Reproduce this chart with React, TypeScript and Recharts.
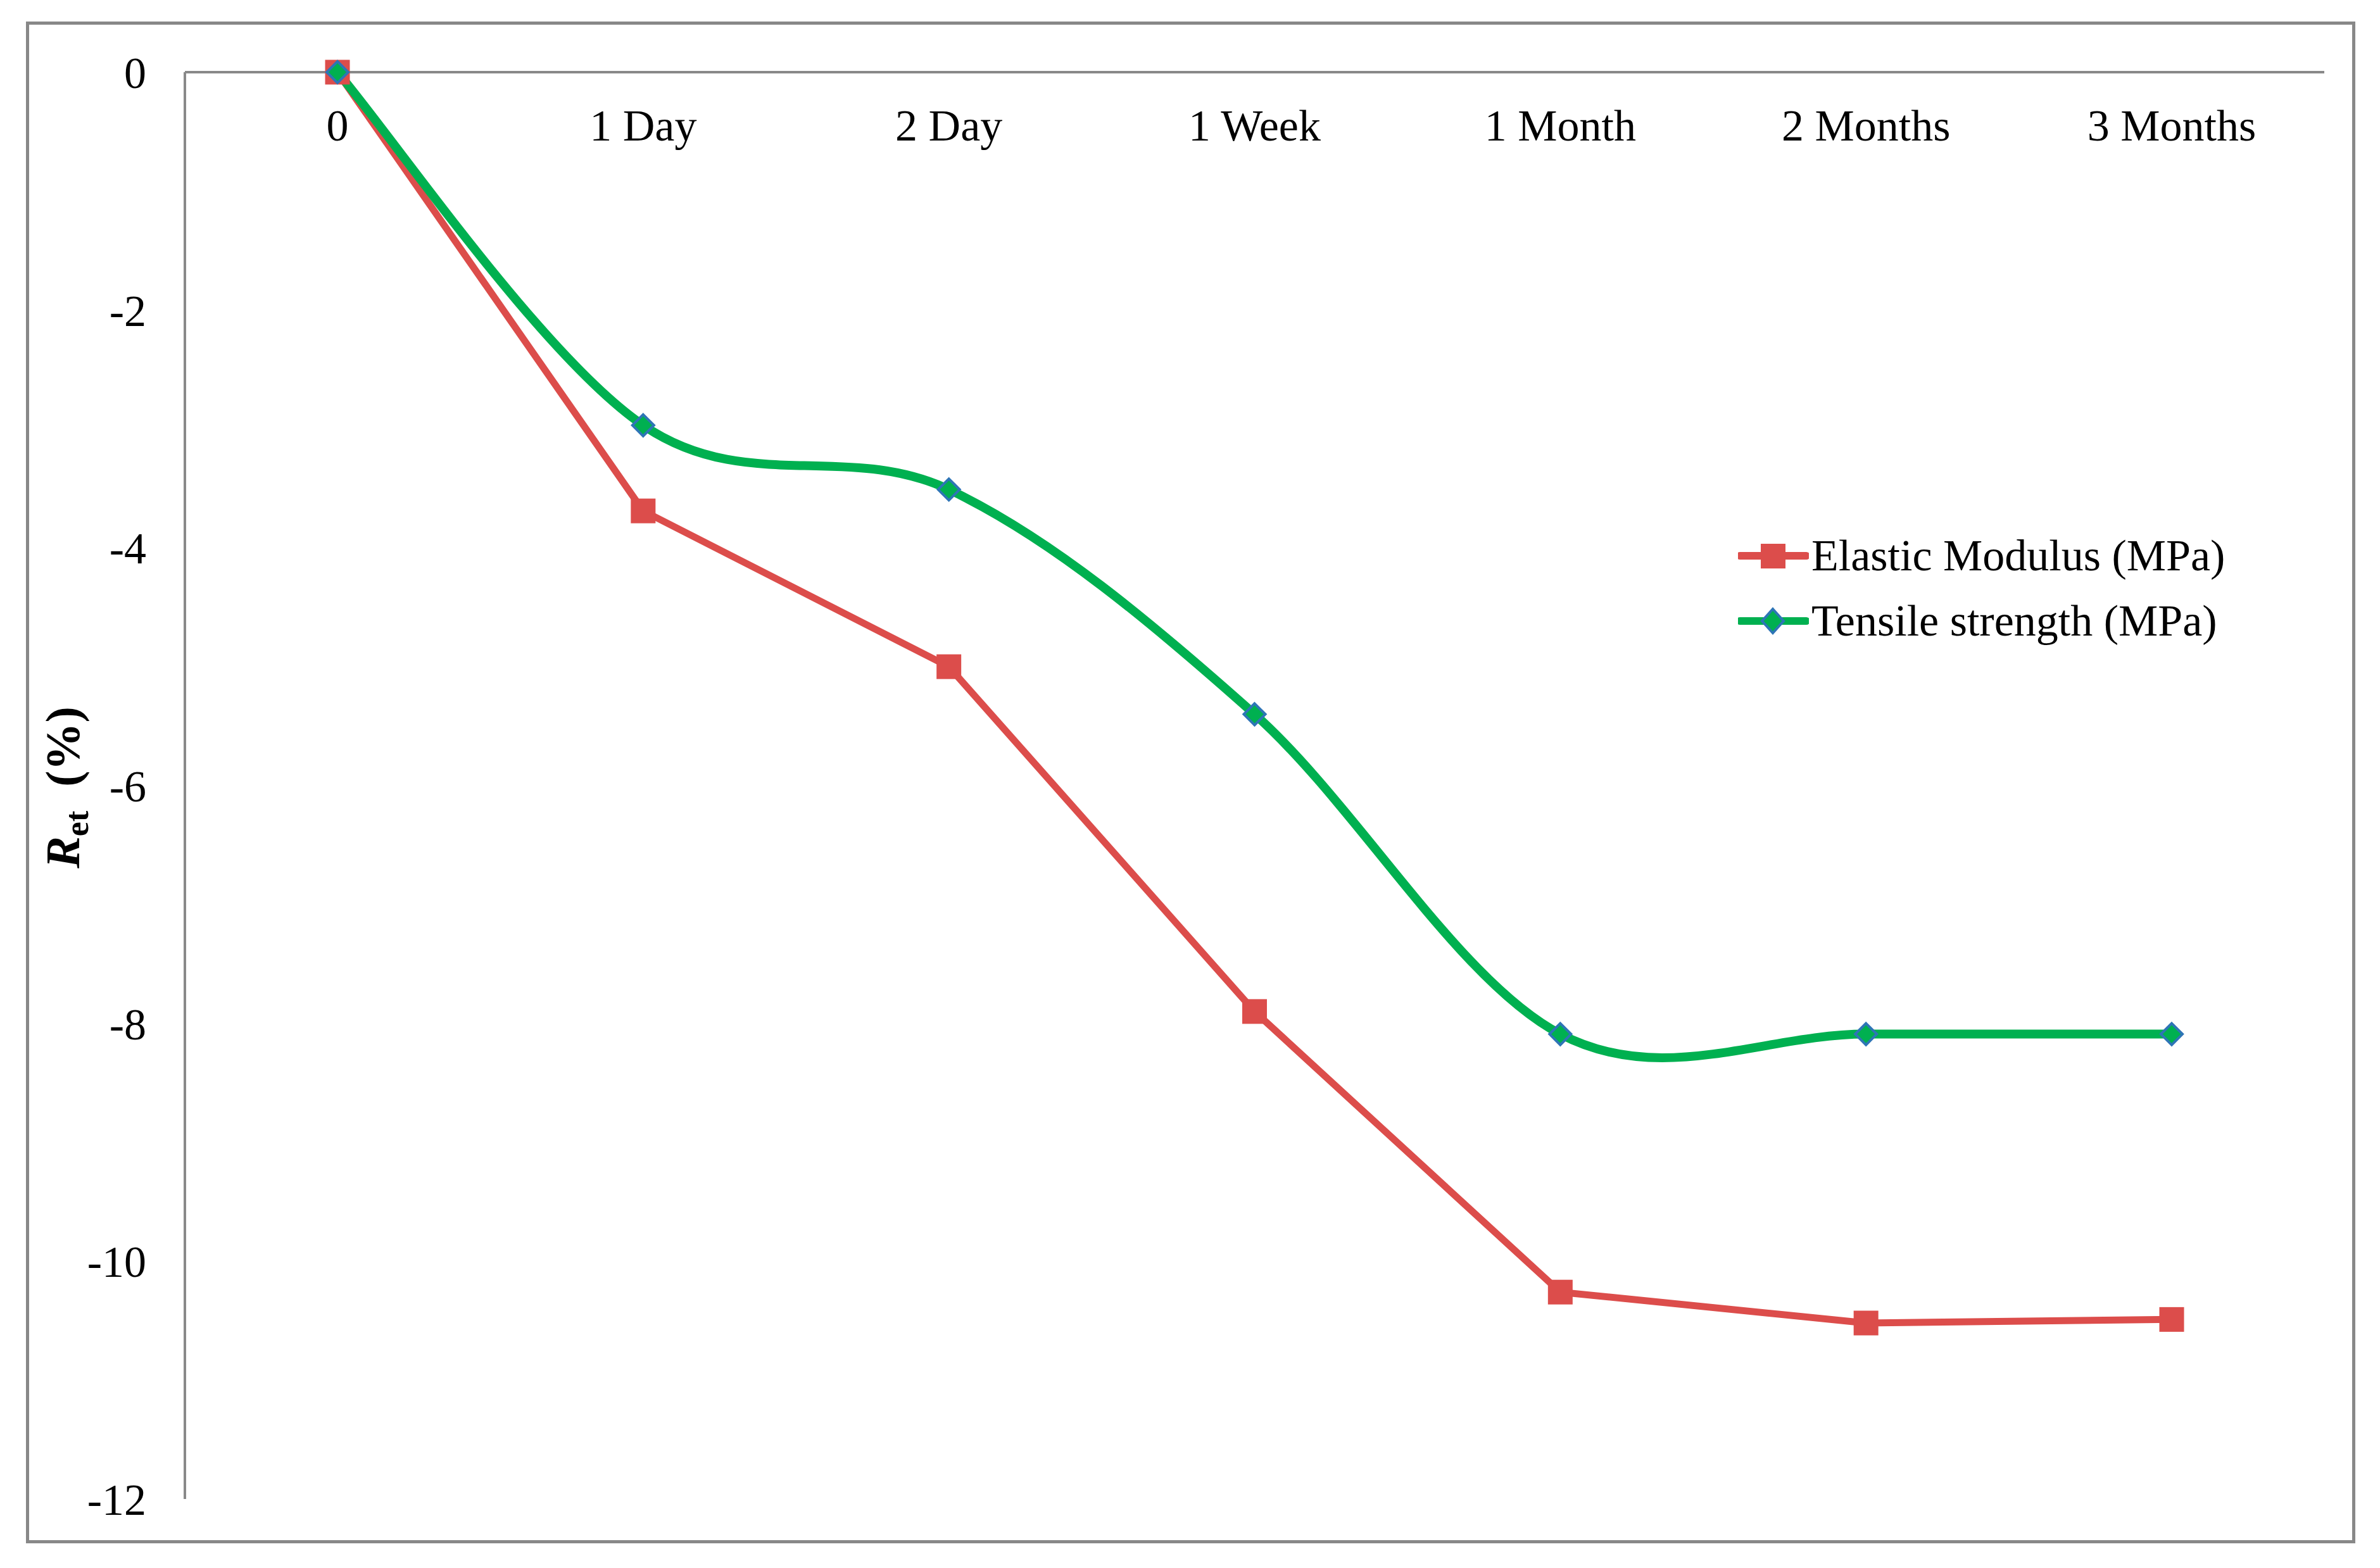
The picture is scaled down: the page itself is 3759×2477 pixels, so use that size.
import { LineChart, Line, XAxis, YAxis, Label } from 'recharts';

const periods = ['0', '1 Day', '2 Day', '1 Week', '1 Month', '2 Months', '3 Months'];
const elasticModulus = [0, -3.69, -5.0, -7.9, -10.26, -10.52, -10.49];
const tensileStrength = [0, -2.97, -3.51, -5.4, -8.09, -8.09, -8.09];
const yTicks = [0, -2, -4, -6, -8, -10, -12];

const RED = '#DC4D4B';
const GREEN = '#00B050';
const BLUE = '#2E75B6';
const AXIS = '#898989';
const FONT = "'Liberation Serif', 'Times New Roman', serif";

const data = periods.map((p, i) => ({
  period: p,
  elastic: elasticModulus[i],
  tensile: tensileStrength[i],
}));

// Excel-style smoothed line (Catmull-Rom through the points)
function excelSmooth(context: any) {
  let pts: number[][] = [];
  return {
    areaStart() {},
    areaEnd() {},
    lineStart() {
      pts = [];
    },
    point(x: number, y: number) {
      pts.push([+x, +y]);
    },
    lineEnd() {
      const n = pts.length;
      if (!n) return;
      context.moveTo(pts[0][0], pts[0][1]);
      const t = 1 / 6;
      for (let i = 0; i < n - 1; i++) {
        const p0 = pts[i - 1] || pts[i];
        const p1 = pts[i];
        const p2 = pts[i + 1];
        const p3 = pts[i + 2] || pts[i + 1];
        context.bezierCurveTo(
          p1[0] + (p2[0] - p0[0]) * t,
          p1[1] + (p2[1] - p0[1]) * t,
          p2[0] - (p3[0] - p1[0]) * t,
          p2[1] - (p3[1] - p1[1]) * t,
          p2[0],
          p2[1]
        );
      }
    },
  };
}

const SquareDot = (props: any) => {
  const { cx, cy } = props;
  if (cx == null || cy == null) return null;
  return <rect x={cx - 19.5} y={cy - 19.5} width={39} height={39} fill={RED} />;
};

const DiamondDot = (props: any) => {
  const { cx, cy } = props;
  if (cx == null || cy == null) return null;
  return (
    <polygon
      points={`${cx},${cy - 17} ${cx + 17},${cy} ${cx},${cy + 17} ${cx - 17},${cy}`}
      fill={GREEN}
      stroke={BLUE}
      strokeWidth={4}
    />
  );
};

const TopTick = (props: any) => {
  const { x, y, payload } = props;
  return (
    <text x={x} y={y + 108} textAnchor="middle" fontSize={70} fontFamily={FONT} fill="#000">
      {payload.value}
    </text>
  );
};

const YLabel = () => (
  <text
    transform="translate(125, 1244) rotate(-90)"
    textAnchor="middle"
    fontFamily={FONT}
    fontSize={76}
    fontWeight="bold"
    fill="#000"
  >
    <tspan fontStyle="italic">R</tspan>
    <tspan fontSize={52} dy={14}>et</tspan>
    <tspan dy={-14}>{'\u00a0\u00a0(%)'}</tspan>
  </text>
);

const legendItems = [
  { name: 'Elastic Modulus (MPa)', color: RED, shape: 'square' },
  { name: 'Tensile strength (MPa)', color: GREEN, shape: 'diamond' },
];

const LegendBox = () => (
  <div style={{ position: 'absolute', left: 2745, top: 826, fontFamily: FONT }}>
    {legendItems.map((item) => (
      <div key={item.name} style={{ display: 'flex', alignItems: 'center', height: 103 }}>
        <svg width={112} height={50} style={{ display: 'block' }}>
          <line x1={3} y1={25} x2={108} y2={25} stroke={item.color} strokeWidth={12} strokeLinecap="round" />
          {item.shape === 'square' ? (
            <rect x={36} y={6} width={39} height={39} fill={RED} />
          ) : (
            <polygon points="55,6 72,25 55,44 38,25" fill={GREEN} stroke={BLUE} strokeWidth={4} />
          )}
        </svg>
        <span style={{ fontSize: 70, lineHeight: 1, marginLeft: 4, color: '#000', whiteSpace: 'nowrap' }}>
          {item.name}
        </span>
      </div>
    ))}
  </div>
);

export default function App() {
  return (
    <div style={{ position: 'absolute', left: 0, top: 0, width: 3759, height: 2477, background: '#fff' }}>
      <div
        style={{
          position: 'absolute',
          left: 41,
          top: 34,
          width: 3679,
          height: 2404,
          border: '5px solid #888',
          boxSizing: 'border-box',
        }}
      />
      <LineChart
        width={3759}
        height={2477}
        data={data}
        margin={{ top: 113, right: 88, bottom: 109, left: 291 }}
        style={{ position: 'absolute', left: 0, top: 0 }}
      >
        <XAxis
          dataKey="period"
          orientation="top"
          height={1}
          padding={{ left: 241, right: 241 }}
          axisLine={{ stroke: AXIS, strokeWidth: 4 }}
          tickLine={false}
          tickSize={0}
          tickMargin={0}
          tick={<TopTick />}
          interval={0}
        />
        <YAxis
          type="number"
          domain={[-12, 0]}
          ticks={yTicks}
          width={1}
          axisLine={{ stroke: AXIS, strokeWidth: 4 }}
          tickLine={false}
          tickSize={0}
          tickMargin={61}
          tick={{ fontSize: 70, fontFamily: FONT, fill: '#000' }}
          interval={0}
        >
          <Label content={<YLabel />} />
        </YAxis>
        <Line
          type="linear"
          dataKey="elastic"
          name="Elastic Modulus (MPa)"
          stroke={RED}
          strokeWidth={11}
          dot={<SquareDot />}
          activeDot={false}
          isAnimationActive={false}
        />
        <Line
          type={excelSmooth as any}
          dataKey="tensile"
          name="Tensile strength (MPa)"
          stroke={GREEN}
          strokeWidth={14}
          dot={<DiamondDot />}
          activeDot={false}
          isAnimationActive={false}
        />
      </LineChart>
      <LegendBox />
    </div>
  );
}
